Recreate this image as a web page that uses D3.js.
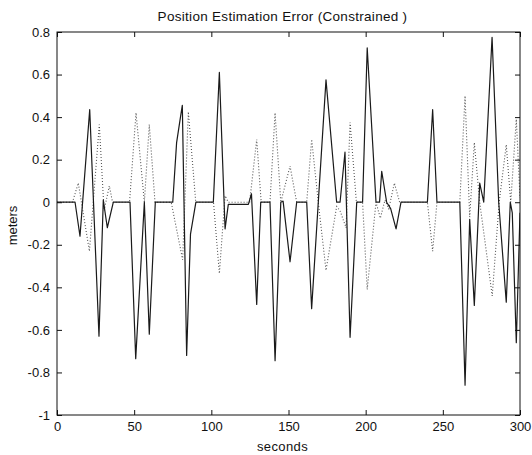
<!DOCTYPE html>
<html>
<head>
<meta charset="utf-8">
<script src="https://cdn.jsdelivr.net/npm/d3@7"></script>
<style>
  html, body { margin: 0; padding: 0; background: #fff; }
  svg { display: block; }
  text { font-family: "Liberation Sans", Arial, sans-serif; fill: #111; }
</style>
</head>
<body>
<svg id="chart" width="532" height="455"></svg>
<script>
// ---- data ----
const solidT = [0, 11.7, 14.9, 21.2, 27.2, 30, 32.6, 36.5, 47.3, 51, 56.6, 59.8, 63.7,
  75, 77.5, 80, 81.2, 84, 86.5, 90, 101.3, 105.2, 108.9, 111, 124, 126, 129.4, 132,
  138, 141.3, 145, 146.5, 151, 155.3, 161.8, 165, 169.3, 174.3, 181.2, 183.4, 186.6,
  189.9, 194.2, 198, 201, 206.7, 209, 210.4, 213.6, 216.2, 219.7, 222.9, 240, 243.4,
  246.2, 261, 264.4, 267.4, 270.4, 273.9, 276.5, 281.9, 286.2, 291.1, 293.7, 295, 297.6, 300];
const solidV = [0, 0, -0.16, 0.435, -0.63, 0.01, -0.12, 0, 0, -0.735, 0, -0.62, 0,
  0, 0.28, 0.4, 0.455, -0.72, -0.15, 0, 0, 0.61, -0.125, -0.01, -0.01, 0.04, -0.48, 0,
  0, -0.745, 0, 0.005, -0.28, 0, 0, -0.5, 0, 0.575, 0, 0, 0.235,
  -0.635, 0, 0, 0.725, 0, 0, 0.145, 0, -0.03, -0.125, 0, 0, 0.435,
  0, 0, -0.86, -0.08, -0.485, 0.09, 0, 0.775, 0, -0.47, 0, -0.05, -0.66, -0.05];

const dottedT = [0, 10, 13.8, 21, 27.4, 30.5, 33.9, 36, 47, 51.2, 56.6, 59.8, 63.5,
  74, 81.4, 85.1, 89.9, 101.4, 105.2, 108.9, 111, 124.8, 129.4, 132.3, 138, 141.3,
  145, 151, 155.3, 161.8, 165, 169.3, 174.3, 181.2, 183.4, 187.3, 189.9, 194, 198,
  201, 206.7, 209.5, 212.5, 215, 218.6, 222, 240, 243.4, 246.2, 261, 264.4, 267.4,
  270.4, 273.9, 282, 286.5, 291.1, 294, 297.6, 300];
const dottedV = [0, 0, 0.09, -0.23, 0.365, -0.04, 0.077, 0, 0, 0.42, 0, 0.365, 0,
  0, -0.27, 0.425, 0, 0, -0.335, 0.03, 0, 0, 0.295, 0, 0, 0.42,
  0, 0.17, 0, 0, 0.295, 0, -0.32, -0.02, -0.04, -0.12, 0.375, 0, 0,
  -0.41, 0, -0.075, 0.01, -0.03, 0.09, 0, 0, -0.23, 0, 0, 0.5, -0.07,
  0.28, 0, -0.44, 0, 0.27, 0, 0.39, 0.02];

const xTicks = [0, 50, 100, 150, 200, 250, 300];
const yTicks = [0.8, 0.6, 0.4, 0.2, 0, -0.2, -0.4, -0.6, -0.8, -1];
const yTickLabels = ["0.8", "0.6", "0.4", "0.2", "0", "-0.2", "-0.4", "-0.6", "-0.8", "-1"];

const title = "Position Estimation Error (Constrained )";
const xLabel = "seconds";
const yLabel = "meters";

// ---- layout ----
const L = 57, R = 520, T = 32, B = 415;
const svg = d3.select("#chart");
const x = d3.scaleLinear().domain([0, 300]).range([L, R]);
const y = d3.scaleLinear().domain([-1, 0.8]).range([B, T]);

svg.append("clipPath").attr("id", "clip")
  .append("rect").attr("x", L).attr("y", T).attr("width", R - L).attr("height", B - T);

const line = d3.line().x(d => x(d[0])).y(d => y(d[1]));
const solid = solidT.map((t, i) => [t, solidV[i]]);
const dotted = dottedT.map((t, i) => [t, dottedV[i]]);

const g = svg.append("g").attr("clip-path", "url(#clip)");
g.append("path").datum(dotted).attr("d", line)
  .attr("fill", "none").attr("stroke", "#555").attr("stroke-width", 1.1)
  .attr("stroke-dasharray", "1,2");
g.append("path").datum(solid).attr("d", line)
  .attr("fill", "none").attr("stroke", "#1a1a1a").attr("stroke-width", 1.2)
  .attr("stroke-linejoin", "round");

// axes with inward ticks on all four sides
const fmtY = d => yTickLabels[yTicks.indexOf(d)] ?? "";
const axL = d3.axisLeft(y).tickValues(yTicks).tickFormat(fmtY).tickSizeInner(-5).tickSizeOuter(0).tickPadding(7);
const axR = d3.axisRight(y).tickValues(yTicks).tickFormat("").tickSizeInner(-5).tickSizeOuter(0);
const axB = d3.axisBottom(x).tickValues(xTicks).tickFormat(d3.format("d")).tickSizeInner(-5).tickSizeOuter(0).tickPadding(7);
const axT = d3.axisTop(x).tickValues(xTicks).tickFormat("").tickSizeInner(-5).tickSizeOuter(0);

function style(sel) {
  sel.select(".domain").remove();
  sel.selectAll("line").attr("stroke", "#111");
  sel.selectAll("text").attr("font-size", 13).attr("fill", "#111")
    .attr("font-family", "'Liberation Sans', Arial, sans-serif");
}
svg.append("g").attr("transform", `translate(${L},0)`).call(axL).call(style);
svg.append("g").attr("transform", `translate(${R},0)`).call(axR).call(style);
svg.append("g").attr("transform", `translate(0,${B})`).call(axB).call(style);
svg.append("g").attr("transform", `translate(0,${T})`).call(axT).call(style);

svg.append("rect").attr("x", L).attr("y", T).attr("width", R - L).attr("height", B - T)
  .attr("fill", "none").attr("stroke", "#111").attr("stroke-width", 1);

svg.append("text").attr("x", (L + R) / 2 - 6).attr("y", 21).attr("text-anchor", "middle")
  .attr("font-size", 13.5).attr("letter-spacing", 0.3).text(title);
svg.append("text").attr("x", (L + R) / 2 - 6).attr("y", 451).attr("text-anchor", "middle")
  .attr("font-size", 13).attr("letter-spacing", 0.4).text(xLabel);
svg.append("text").attr("transform", `translate(17,${(T + B) / 2 + 2}) rotate(-90)`)
  .attr("text-anchor", "middle").attr("font-size", 13).text(yLabel);
</script>
</body>
</html>
